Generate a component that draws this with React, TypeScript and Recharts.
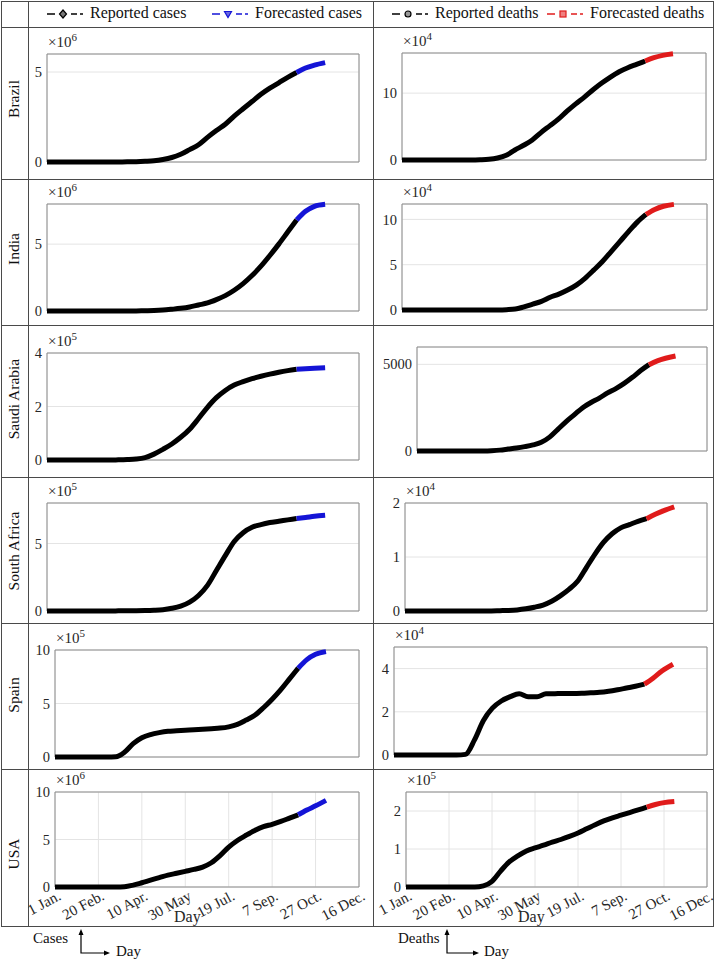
import React from 'react';
import { LineChart, Line, XAxis, YAxis, CartesianGrid, ReferenceArea } from 'recharts';

// sample days (day 1 = 1 Jan.), reported up to 281, forecast 281..313
const days = [1, 11, 21, 31, 41, 51, 61, 71, 81, 91, 101, 111, 121, 131, 141, 151, 161, 171, 181, 191, 201, 211, 221, 231, 241, 251, 261, 271, 281, 291, 301, 313];
const xTicks = [1, 51, 101, 151, 201, 251, 301, 351];
const xTickLabels = ['1 Jan.', '20 Feb.', '10 Apr.', '30 May', '19 Jul.', '7 Sep.', '27 Oct.', '16 Dec.'];
const countries = ['Brazil', 'India', 'Saudi Arabia', 'South Africa', 'Spain', 'USA'];

// cases (in units of 10^exp)
const brazilCases = [0, 0, 0, 0, 0, 0, 0, 0, 0.002, 0.008, 0.019, 0.04, 0.07, 0.14, 0.25, 0.43, 0.69, 0.96, 1.37, 1.75, 2.1, 2.55, 2.96, 3.36, 3.76, 4.1, 4.4, 4.7, 4.97];
const brazilCasesF = [4.97, 5.22, 5.38, 5.52];
const indiaCases = [0, 0, 0, 0, 0, 0, 0, 0.0001, 0.0005, 0.002, 0.007, 0.02, 0.035, 0.07, 0.13, 0.2, 0.3, 0.45, 0.6, 0.85, 1.15, 1.55, 2.05, 2.65, 3.35, 4.15, 5.0, 5.9, 6.8];
const indiaCasesF = [6.8, 7.45, 7.82, 7.98];
const saudiCases = [0, 0, 0, 0, 0, 0, 0, 0.001, 0.005, 0.015, 0.035, 0.09, 0.22, 0.4, 0.6, 0.85, 1.15, 1.55, 1.97, 2.33, 2.6, 2.8, 2.93, 3.04, 3.13, 3.21, 3.28, 3.34, 3.39];
const saudiCasesF = [3.39, 3.41, 3.43, 3.45];
const saCases = [0, 0, 0, 0, 0, 0, 0, 0.0005, 0.01, 0.02, 0.02, 0.03, 0.055, 0.1, 0.2, 0.36, 0.65, 1.15, 1.9, 3.0, 4.1, 5.15, 5.8, 6.2, 6.4, 6.55, 6.65, 6.75, 6.85];
const saCasesF = [6.85, 6.93, 7.02, 7.1];
const spainCases = [0, 0, 0, 0, 0, 0, 0, 0.02, 0.45, 1.25, 1.8, 2.1, 2.28, 2.4, 2.45, 2.5, 2.55, 2.6, 2.65, 2.7, 2.82, 3.05, 3.45, 3.9, 4.6, 5.4, 6.3, 7.3, 8.3];
const spainCasesF = [8.3, 9.1, 9.6, 9.85];
const usaCases = [0, 0, 0, 0, 0, 0, 0, 0.001, 0.03, 0.2, 0.45, 0.72, 0.98, 1.25, 1.45, 1.65, 1.85, 2.1, 2.55, 3.3, 4.2, 4.9, 5.45, 5.95, 6.35, 6.6, 6.9, 7.25, 7.6];
const usaCasesF = [7.6, 8.1, 8.55, 9.12];

// deaths
const brazilDeaths = [0, 0, 0, 0, 0, 0, 0, 0, 0, 0.03, 0.1, 0.3, 0.7, 1.5, 2.2, 3.0, 4.1, 5.1, 6.1, 7.3, 8.4, 9.4, 10.5, 11.5, 12.4, 13.2, 13.8, 14.3, 14.8];
const brazilDeathsF = [14.8, 15.3, 15.65, 15.9];
const indiaDeaths = [0, 0, 0, 0, 0, 0, 0, 0, 0, 0.001, 0.003, 0.01, 0.04, 0.1, 0.35, 0.65, 0.95, 1.4, 1.75, 2.2, 2.75, 3.5, 4.4, 5.35, 6.45, 7.55, 8.65, 9.7, 10.55];
const indiaDeathsF = [10.55, 11.1, 11.45, 11.66];
const saudiDeaths = [0, 0, 0, 0, 0, 0, 0, 1, 5, 20, 50, 110, 170, 250, 350, 500, 800, 1250, 1700, 2100, 2500, 2800, 3050, 3350, 3600, 3900, 4250, 4640, 4980];
const saudiDeathsF = [4980, 5200, 5350, 5480];
const saDeaths = [0, 0, 0, 0, 0, 0, 0, 0, 0, 0.0005, 0.002, 0.006, 0.01, 0.02, 0.04, 0.07, 0.11, 0.18, 0.28, 0.4, 0.55, 0.8, 1.05, 1.27, 1.43, 1.54, 1.6, 1.66, 1.71];
const saDeathsF = [1.71, 1.79, 1.86, 1.93];
const spainDeaths = [0, 0, 0, 0, 0, 0, 0, 0, 0.03, 0.7, 1.6, 2.17, 2.5, 2.7, 2.83, 2.7, 2.7, 2.83, 2.84, 2.85, 2.85, 2.86, 2.88, 2.9, 2.95, 3.02, 3.1, 3.18, 3.28];
const spainDeathsF = [3.28, 3.57, 3.9, 4.2];
const usaDeaths = [0, 0, 0, 0, 0, 0, 0, 0, 0, 0.03, 0.15, 0.42, 0.66, 0.82, 0.95, 1.03, 1.1, 1.18, 1.25, 1.33, 1.42, 1.53, 1.64, 1.74, 1.82, 1.89, 1.96, 2.03, 2.1];
const usaDeathsF = [2.1, 2.17, 2.22, 2.25];

const SERIF = '"Liberation Serif", "Times New Roman", "DejaVu Serif", serif';
const BLUE = '#1414d6';
const RED = '#e01b1b';
const BORDER = '#4a4a4a';

type PanelCfg = {
  plot: [number, number, number, number];
  yMax: number;
  yTicks: number[];
  exp?: number;
  rep: number[];
  fc: number[];
  color: string;
  xLabels?: boolean;
};

const casePanels: PanelCfg[] = [
  { plot: [47, 54, 312, 108], yMax: 6, yTicks: [0, 5], exp: 6, rep: brazilCases, fc: brazilCasesF, color: BLUE },
  { plot: [47, 204, 312, 107], yMax: 8, yTicks: [0, 5], exp: 6, rep: indiaCases, fc: indiaCasesF, color: BLUE },
  { plot: [47, 353, 312, 107], yMax: 4, yTicks: [0, 2, 4], exp: 5, rep: saudiCases, fc: saudiCasesF, color: BLUE },
  { plot: [47, 503, 312, 108], yMax: 8, yTicks: [0, 5], exp: 5, rep: saCases, fc: saCasesF, color: BLUE },
  { plot: [55, 650, 304, 107], yMax: 10, yTicks: [0, 5, 10], exp: 5, rep: spainCases, fc: spainCasesF, color: BLUE },
  { plot: [55, 792, 304, 95], yMax: 10, yTicks: [0, 5, 10], exp: 6, rep: usaCases, fc: usaCasesF, color: BLUE, xLabels: true },
];

const deathPanels: PanelCfg[] = [
  { plot: [402, 53, 304, 107], yMax: 16, yTicks: [0, 10], exp: 4, rep: brazilDeaths, fc: brazilDeathsF, color: RED },
  { plot: [402, 204, 305, 106], yMax: 11.7, yTicks: [0, 5, 10], exp: 4, rep: indiaDeaths, fc: indiaDeathsF, color: RED },
  { plot: [417, 347, 290, 104], yMax: 6000, yTicks: [0, 5000], rep: saudiDeaths, fc: saudiDeathsF, color: RED },
  { plot: [405, 503, 302, 108], yMax: 2, yTicks: [0, 1, 2], exp: 4, rep: saDeaths, fc: saDeathsF, color: RED },
  { plot: [394, 647, 313, 108], yMax: 5, yTicks: [0, 2, 4], exp: 4, rep: spainDeaths, fc: spainDeathsF, color: RED },
  { plot: [406, 792, 301, 95], yMax: 2.5, yTicks: [0, 1, 2], exp: 5, rep: usaDeaths, fc: usaDeathsF, color: RED, xLabels: true },
];

const rowLines = [27, 179, 325, 477, 623, 769];
const rowLabelY = [99, 249, 399, 551, 695, 854];

function buildRows(rep: number[], fc: number[]) {
  const last = rep.length - 1;
  return days.map((day, i) => ({
    day,
    rep: i <= last ? rep[i] : null,
    fc: i >= last ? fc[i - last] : null,
  }));
}

const renderXTick = (props: any) => {
  const { x, y, payload } = props;
  const label = xTickLabels[xTicks.indexOf(payload.value)];
  const ax = x + 7;
  const ay = y + 12;
  return (
    <text x={ax} y={ay} textAnchor="end" transform={`rotate(-28 ${ax} ${ay})`} fontSize={15} fontFamily={SERIF} fill="#262626">
      {label}
    </text>
  );
};

const L = 44;
const T = 10;
const R = 12;

function Panel({ p }: { p: PanelCfg }) {
  const [px, py, pw, ph] = p.plot;
  const B = p.xLabels ? 46 : 10;
  return (
    <>
      <div style={{ position: 'absolute', left: px - L, top: py - T }}>
        <LineChart width={L + pw + R} height={T + ph + B} data={buildRows(p.rep, p.fc)} margin={{ top: T, right: R, left: 0, bottom: 0 }}>
          <CartesianGrid stroke="#e4e4e4" />
          <XAxis
            dataKey="day"
            type="number"
            domain={[1, 351]}
            ticks={xTicks}
            interval={0}
            height={B}
            axisLine={false}
            tickLine={false}
            tickSize={0}
            tickMargin={0}
            tick={p.xLabels ? renderXTick : false}
          />
          <YAxis
            type="number"
            domain={[0, p.yMax]}
            ticks={p.yTicks}
            interval={0}
            width={L}
            axisLine={false}
            tickLine={false}
            tickSize={0}
            tickMargin={5}
            tick={{ fontSize: 14.5, fill: '#262626', fontFamily: SERIF }}
          />
          <ReferenceArea x1={1} x2={351} y1={0} y2={p.yMax} fill="none" stroke="#8c8c8c" strokeWidth={1} />
          <Line dataKey="rep" type="monotone" stroke="#000" strokeWidth={5} dot={false} isAnimationActive={false} />
          <Line dataKey="fc" type="monotone" stroke={p.color} strokeWidth={5} dot={false} isAnimationActive={false} />
        </LineChart>
      </div>
      {p.exp && (
        <div style={{ position: 'absolute', left: px + 1, top: py - 20, fontSize: 15, lineHeight: '17px', color: '#262626', whiteSpace: 'nowrap' }}>
          ×10<span style={{ fontSize: 11, position: 'relative', top: -6 }}>{p.exp}</span>
        </div>
      )}
    </>
  );
}

function LegendItem({ x, label, color, marker }: { x: number; label: string; color: string; marker: string }) {
  let m: React.ReactNode = null;
  if (marker === 'diamond') m = <polygon points="16,2 19.5,6 16,10 12.5,6" fill="#777" stroke={color} strokeWidth={1.2} />;
  if (marker === 'tri') m = <polygon points="12.5,3.5 19.5,3.5 16,9.5" fill="#6a6ae0" stroke={color} strokeWidth={1.2} />;
  if (marker === 'circle') m = <circle cx={16} cy={6} r={3} fill="#999" stroke={color} strokeWidth={1.2} />;
  if (marker === 'square') m = <rect x={13} y={3} width={6} height={6} fill="#f08080" stroke={color} strokeWidth={1.2} />;
  return (
    <>
      <svg style={{ position: 'absolute', left: x, top: 8 }} width={36} height={12}>
        <line x1={0} y1={6} x2={8} y2={6} stroke={color} strokeWidth={1.5} />
        <line x1={24} y1={6} x2={30} y2={6} stroke={color} strokeWidth={1.5} />
        <line x1={33} y1={6} x2={36} y2={6} stroke={color} strokeWidth={1.5} />
        {m}
      </svg>
      <div style={{ position: 'absolute', left: x + 43, top: 3, fontSize: 16, lineHeight: '20px', whiteSpace: 'nowrap' }}>{label}</div>
    </>
  );
}

export default function App() {
  return (
    <div style={{ position: 'absolute', left: 0, top: 0, width: 717, height: 960, background: '#fff', fontFamily: SERIF, color: '#111' }}>
      {/* table frame */}
      <div style={{ position: 'absolute', left: 1, top: 1, width: 713, height: 926, border: `1px solid ${BORDER}`, boxSizing: 'border-box' }} />
      {rowLines.map((y) => (
        <div key={y} style={{ position: 'absolute', left: 1, top: y, width: 713, height: 1, background: BORDER }} />
      ))}
      <div style={{ position: 'absolute', left: 28, top: 1, width: 1, height: 926, background: BORDER }} />
      <div style={{ position: 'absolute', left: 373, top: 1, width: 1, height: 926, background: BORDER }} />

      {/* legend row */}
      <LegendItem x={47} label="Reported cases" color="#000" marker="diamond" />
      <LegendItem x={212} label="Forecasted cases" color={BLUE} marker="tri" />
      <LegendItem x={392} label="Reported deaths" color="#000" marker="circle" />
      <LegendItem x={547} label="Forecasted deaths" color={RED} marker="square" />

      {/* row labels */}
      {countries.map((c, i) => (
        <div
          key={c}
          style={{
            position: 'absolute',
            left: 14,
            top: rowLabelY[i],
            transform: 'translate(-50%, -50%) rotate(-90deg)',
            fontSize: 15.5,
            lineHeight: '18px',
            whiteSpace: 'nowrap',
          }}
        >
          {c}
        </div>
      ))}

      {casePanels.map((p, i) => (
        <Panel key={'c' + i} p={p} />
      ))}
      {deathPanels.map((p, i) => (
        <Panel key={'d' + i} p={p} />
      ))}

      {/* x-axis titles */}
      <div style={{ position: 'absolute', left: 174, top: 908, fontSize: 16, lineHeight: '18px', color: '#262626' }}>Day</div>
      <div style={{ position: 'absolute', left: 518, top: 908, fontSize: 16, lineHeight: '18px', color: '#262626' }}>Day</div>

      {/* bottom axis keys */}
      <div style={{ position: 'absolute', left: 33, top: 929, fontSize: 15, lineHeight: '18px' }}>Cases</div>
      <div style={{ position: 'absolute', left: 116, top: 942, fontSize: 15, lineHeight: '18px' }}>Day</div>
      <div style={{ position: 'absolute', left: 398, top: 929, fontSize: 15, lineHeight: '18px' }}>Deaths</div>
      <div style={{ position: 'absolute', left: 484, top: 942, fontSize: 15, lineHeight: '18px' }}>Day</div>
      <svg style={{ position: 'absolute', left: 0, top: 920 }} width={717} height={40}>
        <polyline points="81,11 81,33 106,33" fill="none" stroke="#000" strokeWidth={1.2} />
        <polygon points="81,9 78.5,15 83.5,15" fill="#000" />
        <polygon points="110,33 104,30.5 104,35.5" fill="#000" />
        <polyline points="447,11 447,33 475,33" fill="none" stroke="#000" strokeWidth={1.2} />
        <polygon points="447,9 444.5,15 449.5,15" fill="#000" />
        <polygon points="479,33 473,30.5 473,35.5" fill="#000" />
      </svg>
    </div>
  );
}
